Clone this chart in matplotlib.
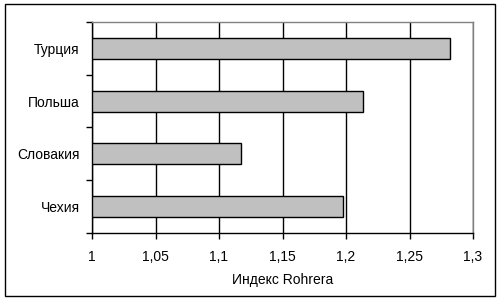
import matplotlib.pyplot as plt
from matplotlib.patches import Rectangle
from matplotlib.ticker import FixedLocator, NullFormatter

plt.rcParams['font.family'] = ['Liberation Sans', 'DejaVu Sans']

countries = ['Чехия', 'Словакия', 'Польша', 'Турция']
rohrer_index = [1.198, 1.117, 1.213, 1.282]
x_ticks = [1.0, 1.05, 1.1, 1.15, 1.2, 1.25, 1.3]
x_labels = ['1', '1,05', '1,1', '1,15', '1,2', '1,25', '1,3']


def main():
    fig = plt.figure(figsize=(5, 3), dpi=100)
    ax = fig.add_axes([0.184, 0.2233, 0.762, 0.7034])

    pos = list(range(len(countries)))
    ax.barh(pos, [v - 1 for v in rohrer_index], left=1, height=0.4,
            color='#c0c0c0', edgecolor='black', linewidth=1, zorder=3)

    ax.set_xlim(1, 1.3)
    ax.set_ylim(-0.5, len(countries) - 0.5)
    ax.set_xticks(x_ticks)
    ax.set_xticklabels(x_labels, fontsize=10)
    ax.xaxis.grid(True, color='black', linewidth=1, zorder=0)

    # category labels centred, ticks on boundaries
    ax.set_yticks(pos)
    ax.set_yticklabels(countries, fontsize=10)
    ax.tick_params(axis='y', length=0, pad=9)
    ax.yaxis.set_minor_locator(FixedLocator([p - 0.5 for p in pos] + [pos[-1] + 0.5]))
    ax.yaxis.set_minor_formatter(NullFormatter())
    ax.tick_params(axis='y', which='minor', length=4, width=1, color='black')
    ax.tick_params(axis='x', length=4, width=1, pad=8)

    ax.set_xlabel('Индекс Rohrera', fontsize=10, labelpad=7)

    ax.spines['top'].set_color('#808080')
    ax.spines['right'].set_color('#808080')
    for s in ax.spines.values():
        s.set_linewidth(1)

    # outer chart frame
    fig.patches.append(Rectangle((0.01, 0.013), 0.98, 0.973, transform=fig.transFigure,
                                 fill=False, edgecolor='black', linewidth=1))

    fig.savefig('out.png', dpi=100)


if __name__ == "__main__":
    main()
